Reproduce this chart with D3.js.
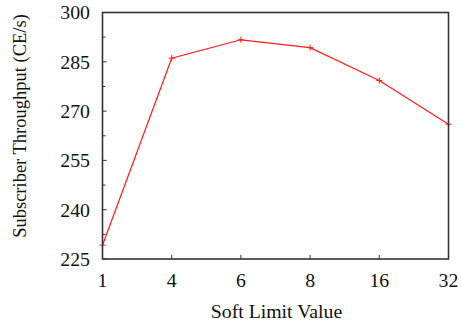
<!DOCTYPE html>
<html>
<head>
<meta charset="utf-8">
<script src="https://cdn.jsdelivr.net/npm/d3@7"></script>
<style>
  html, body { margin: 0; padding: 0; background: #fff; }
  svg { display: block; }
  text { font-family: "Liberation Serif", "Times New Roman", serif; fill: #111; }
</style>
</head>
<body>
<svg id="chart" width="462" height="325"></svg>
<script>
// Soft limit settings and measured subscriber throughput
const softLimits = ["1", "4", "6", "8", "16", "32"];
const throughput = [229.2, 286.1, 291.7, 289.3, 279.3, 266.0];
const yTicks = [225, 240, 255, 270, 285, 300];
const yMinorTicks = [232.5, 247.5, 262.5, 277.5, 292.5];

const W = 462, H = 325;
const m = { left: 102.5, right: 13.5, top: 12.5, bottom: 66 };
const svg = d3.select("#chart");
const fontSize = 19.8;

const x = d3.scalePoint().domain(softLimits).range([m.left, W - m.right]);
const y = d3.scaleLinear().domain([225, 300]).range([H - m.bottom, m.top]);

const frameColor = "#333";

// Inward tick marks
const g = svg.append("g");
g.selectAll("line.ymaj").data(yTicks).join("line")
  .attr("x1", m.left).attr("x2", m.left + 4)
  .attr("y1", d => y(d)).attr("y2", d => y(d))
  .attr("stroke", frameColor).attr("stroke-width", 1);
g.selectAll("line.ymin").data(yMinorTicks).join("line")
  .attr("x1", m.left).attr("x2", m.left + 3)
  .attr("y1", d => y(d)).attr("y2", d => y(d))
  .attr("stroke", frameColor).attr("stroke-width", 1);
g.selectAll("line.xmaj").data(softLimits).join("line")
  .attr("x1", d => x(d)).attr("x2", d => x(d))
  .attr("y1", H - m.bottom).attr("y2", H - m.bottom - 4)
  .attr("stroke", frameColor).attr("stroke-width", 1);

// Tick labels
g.selectAll("text.ylab").data(yTicks).join("text")
  .attr("x", m.left - 12.5).attr("y", d => y(d) + 6.8)
  .attr("text-anchor", "end").attr("font-size", fontSize)
  .text(d => d);
g.selectAll("text.xlab").data(softLimits).join("text")
  .attr("x", d => x(d)).attr("y", H - m.bottom + 28)
  .attr("text-anchor", "middle").attr("font-size", fontSize)
  .text(d => d);

// Series line with cross markers
const line = d3.line().x((d, i) => x(softLimits[i])).y(d => y(d));
svg.append("path").datum(throughput)
  .attr("d", line).attr("fill", "none")
  .attr("stroke", "#ff1a1a").attr("stroke-width", 1.2);
const pts = svg.append("g").selectAll("g").data(throughput).join("g")
  .attr("transform", (d, i) => `translate(${x(softLimits[i])},${y(d)})`);
pts.append("line").attr("x1", -3).attr("x2", 3).attr("stroke", "#ff1a1a").attr("stroke-width", 1);
pts.append("line").attr("y1", -3).attr("y2", 3).attr("stroke", "#ff1a1a").attr("stroke-width", 1);

// Plot frame
svg.append("rect")
  .attr("x", m.left).attr("y", m.top)
  .attr("width", W - m.left - m.right).attr("height", H - m.top - m.bottom)
  .attr("fill", "none").attr("stroke", frameColor).attr("stroke-width", 1.6);

// Axis titles
svg.append("text")
  .attr("x", 276.5).attr("y", H - 7.5)
  .attr("text-anchor", "middle").attr("font-size", fontSize)
  .text("Soft Limit Value");
svg.append("text")
  .attr("transform", `translate(26,126) rotate(-90)`)
  .attr("text-anchor", "middle").attr("font-size", 18.5)
  .text("Subscriber Throughput (CE/s)");
</script>
</body>
</html>
